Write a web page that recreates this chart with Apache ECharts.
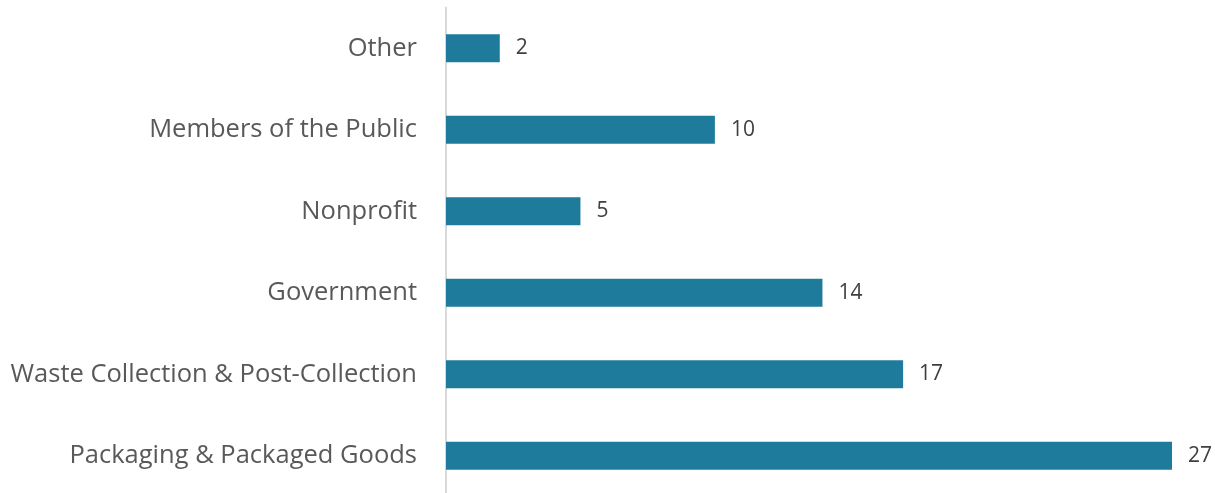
<!DOCTYPE html>
<html>
<head>
<meta charset="utf-8">
<style>
  html, body { margin: 0; padding: 0; background: #ffffff; overflow: hidden; }
  #chart { width: 1215px; height: 500px; }
</style>
<script src="https://cdn.jsdelivr.net/npm/echarts@6/dist/echarts.min.js"></script>
</head>
<body>
<div id="chart"></div>
<script>
// Respondents by sector (bottom to top on the axis)
const categories = [
  'Packaging & Packaged Goods',
  'Waste Collection & Post-Collection',
  'Government',
  'Nonprofit',
  'Members of the Public',
  'Other'
];
const counts = [27, 17, 14, 5, 10, 2];

const chart = echarts.init(document.getElementById('chart'));
chart.setOption({
  animation: false,
  grid: { left: 446, width: 726, top: 7.5, height: 489, containLabel: false },
  xAxis: {
    type: 'value',
    min: 0,
    max: 27,
    show: false
  },
  yAxis: {
    type: 'category',
    data: categories,
    axisLine: { show: true, lineStyle: { color: '#d9d9d9', width: 2 } },
    axisTick: { show: false },
    axisLabel: {
      margin: 29,
      fontFamily: 'Open Sans',
      fontSize: 25.5,
      color: '#595959'
    }
  },
  series: [{
    type: 'bar',
    data: counts,
    barWidth: 28,
    itemStyle: { color: '#1f7b9c' },
    label: {
      show: true,
      position: 'right',
      distance: 16,
      fontFamily: 'Open Sans',
      fontSize: 21,
      color: '#404040'
    }
  }]
});
</script>
</body>
</html>
